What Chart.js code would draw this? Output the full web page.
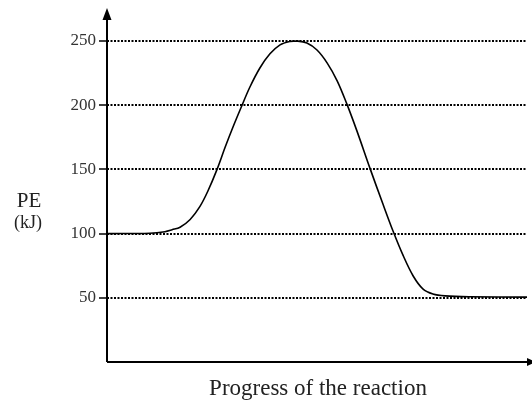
<!DOCTYPE html>
<html>
<head>
<meta charset="utf-8">
<script src="https://cdn.jsdelivr.net/npm/chart.js@4"></script>
<style>
  html, body { margin: 0; padding: 0; background: #fff; }
  #wrap { width: 532px; height: 400px; }
</style>
</head>
<body>
<div id="wrap"><canvas id="myChart" width="532" height="400"></canvas></div>
<script>
const ctx = document.getElementById('myChart').getContext('2d');

// reaction progress (arbitrary units 0-100) and potential energy (kJ)
const progress = [0, 10.2, 13.8, 15.5, 17.4, 19.8, 22.1, 24.0, 26.2, 28.1, 30.0, 31.9, 34.0, 36.4, 38.8, 41.2, 43.6, 45.2, 47.6, 50.0, 52.4, 54.8, 57.1, 59.5, 62.6, 65.7, 68.1, 70.5, 72.9, 75.2, 77.6, 80.5, 86.4, 100];
const energy = [100, 100.3, 101.5, 103, 105, 111, 121, 133, 150, 167, 183, 198, 214, 229, 240, 247, 249.7, 250, 248.5, 243, 233, 219, 201, 180, 151, 123, 102, 83, 67, 57, 53, 51.5, 50.8, 50.5];
const yTicks = [50, 100, 150, 200, 250];
const yTitle = ['PE', '(kJ)'];
const xTitle = 'Progress of the reaction';

const points = progress.map((x, i) => ({x: x, y: energy[i]}));

// axes with arrows + the free-standing titles
const axesPlugin = {
    id: 'axesArrows',
    afterDraw(chart) {
        const c = chart.ctx;
        const a = chart.chartArea;
        c.save();
        c.strokeStyle = '#000';
        c.fillStyle = '#000';
        c.lineWidth = 2;
        c.beginPath();
        c.moveTo(a.left, a.bottom);
        c.lineTo(a.left, 16);
        c.moveTo(a.left, a.bottom);
        c.lineTo(532, a.bottom);
        c.stroke();
        // up arrow
        c.beginPath();
        c.moveTo(a.left, 8);
        c.lineTo(a.left - 4.5, 20);
        c.lineTo(a.left + 4.5, 20);
        c.closePath();
        c.fill();
        // right arrow (cut by the edge)
        c.beginPath();
        c.moveTo(536, a.bottom);
        c.lineTo(527, a.bottom - 4);
        c.lineTo(527, a.bottom + 4);
        c.closePath();
        c.fill();

        c.fillStyle = '#222';
        c.textAlign = 'center';
        c.textBaseline = 'alphabetic';
        c.font = '21px "Liberation Serif"';
        c.fillText(yTitle[0], 29, 207);
        c.font = '18px "Liberation Serif"';
        c.fillText(yTitle[1], 28, 228);
        c.font = '23px "Liberation Serif"';
        c.fillText(xTitle, 318, 395);
        c.restore();
    }
};

const myChart = new Chart(ctx, {
    type: 'line',
    data: {
        datasets: [{
            data: points,
            borderColor: '#000',
            borderWidth: 1.6,
            pointRadius: 0,
            fill: false,
            tension: 0.35,
            clip: false
        }]
    },
    options: {
        responsive: false,
        animation: false,
        events: [],
        layout: { padding: { top: 41, right: 5, bottom: 38, left: 0 } },
        plugins: { legend: { display: false }, tooltip: { enabled: false } },
        scales: {
            x: {
                type: 'linear',
                min: 0,
                max: 100,
                display: false
            },
            y: {
                min: 0,
                max: 250,
                afterFit: s => { s.width = 107; },
                afterBuildTicks: s => { s.ticks = [0].concat(yTicks).map(v => ({value: v})); },
                border: { display: false, dash: [2, 1.5] },
                grid: {
                    color: c => c.tick && c.tick.value === 0 ? 'rgba(0,0,0,0)' : '#000',
                    lineWidth: 2,
                    tickLength: 8,
                    tickWidth: 1.5,
                    tickColor: c => c.tick && c.tick.value === 0 ? 'rgba(0,0,0,0)' : '#000',
                    tickBorderDash: []
                },
                ticks: {
                    padding: 3,
                    color: '#333',
                    font: { family: 'Liberation Serif', size: 17 },
                    callback: v => v === 0 ? '' : v
                }
            }
        }
    },
    plugins: [axesPlugin]
});
</script>
</body>
</html>
